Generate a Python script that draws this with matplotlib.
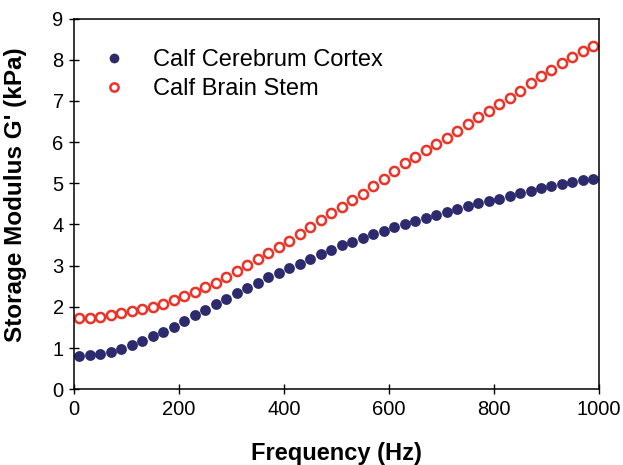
import matplotlib.pyplot as plt
import numpy as np

plt.rcParams["font.family"] = ["Liberation Sans", "DejaVu Sans"]

freq = np.arange(10, 1000, 20)

cortex = [0.80, 0.82, 0.85, 0.91, 0.98, 1.07, 1.17, 1.28, 1.40, 1.52,
          1.66, 1.79, 1.93, 2.06, 2.19, 2.33, 2.46, 2.59, 2.72, 2.83,
          2.94, 3.05, 3.16, 3.28, 3.38, 3.49, 3.58, 3.67, 3.76, 3.85,
          3.93, 4.01, 4.09, 4.16, 4.23, 4.31, 4.38, 4.45, 4.51, 4.57,
          4.63, 4.69, 4.76, 4.82, 4.88, 4.93, 4.98, 5.02, 5.07, 5.11]

stem = [1.73, 1.74, 1.76, 1.79, 1.84, 1.89, 1.94, 2.00, 2.08, 2.17,
        2.26, 2.36, 2.47, 2.59, 2.72, 2.86, 3.01, 3.16, 3.30, 3.45,
        3.61, 3.77, 3.94, 4.11, 4.28, 4.42, 4.60, 4.75, 4.94, 5.10,
        5.30, 5.49, 5.64, 5.81, 5.96, 6.11, 6.28, 6.44, 6.60, 6.76,
        6.92, 7.08, 7.25, 7.43, 7.60, 7.76, 7.92, 8.06, 8.21, 8.34]

fig = plt.figure(figsize=(6.23, 4.65), dpi=100)
ax = fig.add_axes([0.119, 0.163, 0.842, 0.797])

ax.plot(freq, cortex, "o", color="#2e2a6e", markersize=7.8, markeredgewidth=0,
        label="Calf Cerebrum Cortex")
ax.plot(freq, stem, "o", color="#ec3328", markersize=6.6, markerfacecolor="white",
        markeredgewidth=1.8, label="Calf Brain Stem")

ax.set_xlim(0, 1000)
ax.set_ylim(0, 9)
ax.set_xticks(range(0, 1001, 200))
ax.set_yticks(range(0, 10))
ax.tick_params(direction="inout", length=7, width=1, labelsize=14.5, pad=4)
for s in ax.spines.values():
    s.set_linewidth(1.1)

ax.set_xlabel("Frequency (Hz)", fontsize=17, fontweight="bold", labelpad=17)
ax.set_ylabel("Storage Modulus G' (kPa)", fontsize=17.5, fontweight="bold")
ax.yaxis.set_label_coords(-0.09, 0.525)

ax.legend(loc="upper left", bbox_to_anchor=(-0.01, 0.975), frameon=False,
          fontsize=17, handletextpad=0.65, labelspacing=0.3, markerscale=0.9)

fig.savefig("out.png", dpi=100)
